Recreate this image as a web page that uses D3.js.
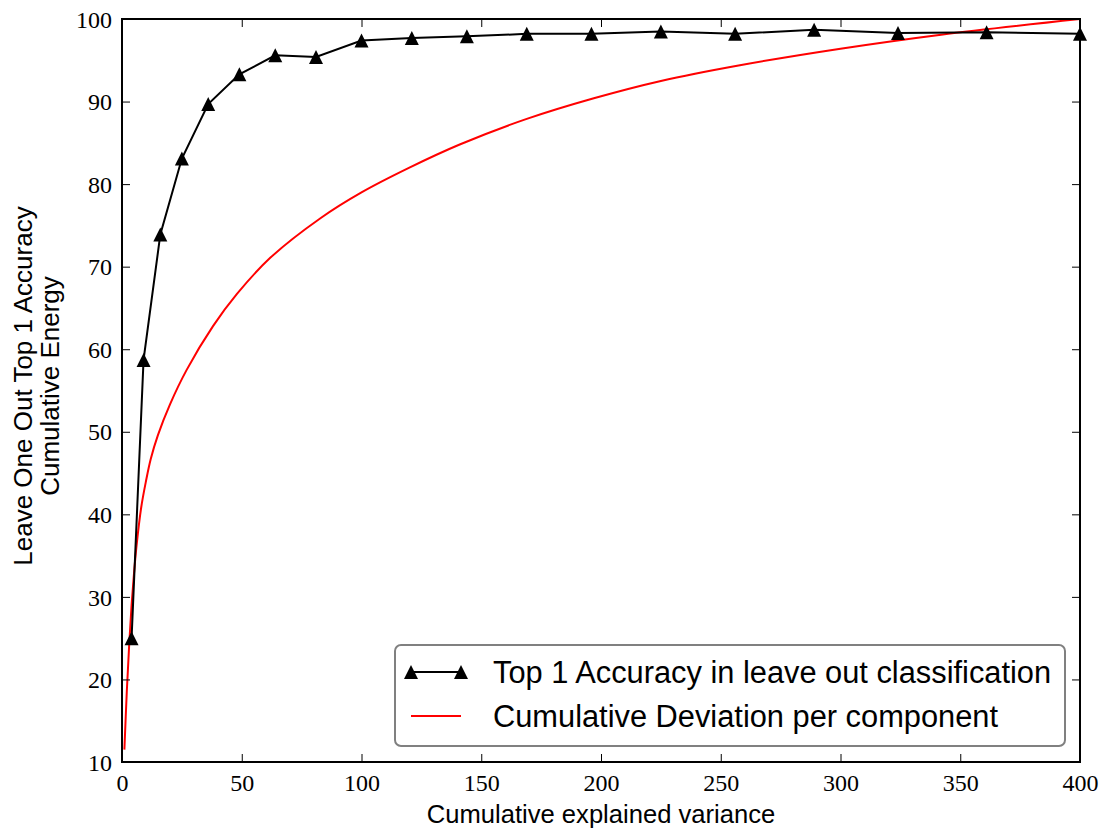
<!DOCTYPE html>
<html>
<head>
<meta charset="utf-8">
<script src="https://cdn.jsdelivr.net/npm/d3@7"></script>
<style>
  html, body { margin: 0; padding: 0; background: #fff; }
  svg { display: block; }
</style>
</head>
<body>
<svg id="chart" width="1107" height="829"></svg>
<script>
// ---- Data ----
const accuracyX = [4, 9, 16, 25, 36, 49, 64, 81, 100, 121, 144, 169, 196, 225, 256, 289, 324, 361, 400];
const accuracyY = [25.0, 58.7, 73.9, 83.1, 89.7, 93.3, 95.6, 95.4, 97.4, 97.7, 97.9, 98.2, 98.2, 98.5, 98.2, 98.7, 98.3, 98.4, 98.2];

const energyX = [1, 2, 3, 4, 5, 6, 8, 10, 12, 15, 20, 27, 38, 48, 62, 83, 100, 120, 141, 169, 197, 225, 258, 300, 342, 400];
const energyY = [11.5, 18.5, 24.2, 29.0, 32.8, 36.0, 40.8, 44.0, 46.7, 49.6, 53.3, 57.5, 62.8, 66.7, 71.1, 75.9, 79.0, 82.0, 84.8, 87.9, 90.4, 92.5, 94.4, 96.4, 98.1, 100];

const xTicks = [0, 50, 100, 150, 200, 250, 300, 350, 400];
const yTicks = [10, 20, 30, 40, 50, 60, 70, 80, 90, 100];

const legendLabels = ["Top 1 Accuracy in leave out classification", "Cumulative Deviation per component"];
const xLabel = "Cumulative explained variance";
const yLabelLines = ["Leave One Out Top 1 Accuracy", "Cumulative Energy"];

// ---- Layout ----
const L = 122, R = 1080, T = 19, B = 762;
const svg = d3.select("#chart");

const x = d3.scaleLinear().domain([0, 400]).range([L, R]);
const y = d3.scaleLinear().domain([10, 100]).range([B, T]);

const serif = "'Liberation Serif', 'Times New Roman', serif";
const sans = "'Liberation Sans', Arial, sans-serif";

svg.append("defs").append("clipPath").attr("id", "clip")
  .append("rect").attr("x", L).attr("y", T).attr("width", R - L).attr("height", B - T);

// ---- Series ----
const plot = svg.append("g").attr("clip-path", "url(#clip)");

const energy = energyX.map((v, i) => [v, energyY[i]]);
plot.append("path")
  .datum(energy)
  .attr("fill", "none")
  .attr("stroke", "#ff0000")
  .attr("stroke-width", 2)
  .attr("d", d3.line().x(d => x(d[0])).y(d => y(d[1])).curve(d3.curveCatmullRom.alpha(0.5)));

const acc = accuracyX.map((v, i) => [v, accuracyY[i]]);
plot.append("path")
  .datum(acc)
  .attr("fill", "none")
  .attr("stroke", "#000")
  .attr("stroke-width", 2)
  .attr("d", d3.line().x(d => x(d[0])).y(d => y(d[1])));

const tri = (s) => `M0,${-s/2}L${s/2},${s/2}L${-s/2},${s/2}Z`;
svg.append("g").selectAll("path.m")
  .data(acc).enter().append("path")
  .attr("d", tri(14))
  .attr("transform", d => `translate(${x(d[0])},${y(d[1])})`)
  .attr("fill", "#000");

// ---- Axes ----
const tickLen = 8;
const axes = svg.append("g");

const xb = axes.append("g").attr("transform", `translate(0,${B})`)
  .call(d3.axisBottom(x).tickValues(xTicks).tickSize(-tickLen).tickPadding(12).tickFormat(d3.format("d")));
const xt = axes.append("g").attr("transform", `translate(0,${T})`)
  .call(d3.axisTop(x).tickValues(xTicks).tickSize(-tickLen).tickFormat(""));
const yl = axes.append("g").attr("transform", `translate(${L},0)`)
  .call(d3.axisLeft(y).tickValues(yTicks).tickSize(-tickLen).tickPadding(10).tickFormat(d3.format("d")));
const yr = axes.append("g").attr("transform", `translate(${R},0)`)
  .call(d3.axisRight(y).tickValues(yTicks).tickSize(-tickLen).tickFormat(""));

[xb, xt, yl, yr].forEach(g => {
  g.select(".domain").remove();
  g.selectAll(".tick line").attr("stroke", "#000").attr("stroke-width", 1);
  g.selectAll(".tick text").attr("fill", "#000").style("font-family", serif).style("font-size", "24px");
});
xb.selectAll(".tick text").attr("dy", "0.71em");
yl.selectAll(".tick text").attr("dy", "0.34em");

axes.append("rect")
  .attr("x", L).attr("y", T).attr("width", R - L).attr("height", B - T)
  .attr("fill", "none").attr("stroke", "#000").attr("stroke-width", 2);

// ---- Labels ----
svg.append("text")
  .attr("x", (L + R) / 2).attr("y", 823)
  .attr("text-anchor", "middle")
  .style("font-family", sans).style("font-size", "25.6px")
  .text(xLabel);

const yLab = svg.append("text")
  .attr("transform", `translate(0,386) rotate(-90)`)
  .attr("text-anchor", "middle")
  .style("font-family", sans).style("font-size", "26px");
yLab.append("tspan").attr("x", 0).attr("y", 32).text(yLabelLines[0]);
yLab.append("tspan").attr("x", 0).attr("y", 59).text(yLabelLines[1]);

// ---- Legend ----
const lg = svg.append("g");
lg.append("rect")
  .attr("x", 395).attr("y", 645).attr("width", 670).attr("height", 101)
  .attr("rx", 6).attr("ry", 6)
  .attr("fill", "#fff").attr("stroke", "#808080").attr("stroke-width", 2);

const rowY = [672, 716];
lg.append("line").attr("x1", 411).attr("x2", 461).attr("y1", rowY[0]).attr("y2", rowY[0])
  .attr("stroke", "#000").attr("stroke-width", 2);
[411, 461].forEach(px => {
  lg.append("path").attr("d", tri(14)).attr("transform", `translate(${px},${rowY[0]})`).attr("fill", "#000");
});
lg.append("line").attr("x1", 411).attr("x2", 461).attr("y1", rowY[1]).attr("y2", rowY[1])
  .attr("stroke", "#ff0000").attr("stroke-width", 2);

legendLabels.forEach((t, i) => {
  lg.append("text")
    .attr("x", 493).attr("y", rowY[i]).attr("dy", "0.36em")
    .style("font-family", sans).style("font-size", "30.8px")
    .text(t);
});
</script>
</body>
</html>
